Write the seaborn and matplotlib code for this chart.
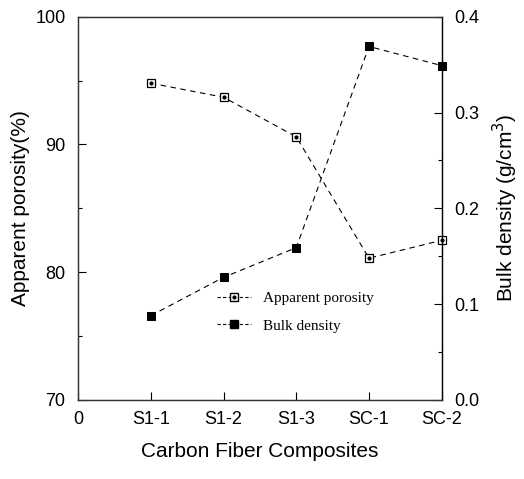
import pandas as pd
import seaborn as sns
import matplotlib.pyplot as plt
from matplotlib.lines import Line2D
from matplotlib.legend_handler import HandlerTuple
from matplotlib.ticker import MultipleLocator

composites = ['S1-1', 'S1-2', 'S1-3', 'SC-1', 'SC-2']
x_pos = [1, 2, 3, 4, 5]
porosity = [94.8, 93.7, 90.6, 81.1, 82.5]
bulk_density = [0.088, 0.128, 0.159, 0.369, 0.349]
x_ticklabels = ['0'] + composites

df = pd.DataFrame({'x': x_pos, 'porosity': porosity, 'density': bulk_density})

sns.set_style('ticks')
plt.rcParams['font.family'] = ['Liberation Sans', 'DejaVu Sans']
plt.rcParams['xtick.direction'] = 'in'
plt.rcParams['ytick.direction'] = 'in'
for k in ['text.color', 'axes.labelcolor', 'xtick.color', 'ytick.color']:
    plt.rcParams[k] = 'black'

fig, ax1 = plt.subplots(figsize=(5.24, 4.79), dpi=100)
fig.subplots_adjust(left=0.149, right=0.843, top=0.965, bottom=0.165)

# porosity: open squares with dot, left axis
sns.lineplot(x='x', y='porosity', data=df, ax=ax1, color='black', linestyle=(0, (5, 4)),
             linewidth=0.8, marker='s', markersize=6, markerfacecolor='white',
             markeredgecolor='black', markeredgewidth=0.9, clip_on=False)
ax1.plot(df['x'], df['porosity'], linestyle='none', marker='.', markersize=4, color='black',
         clip_on=False)

ax2 = ax1.twinx()
sns.lineplot(x='x', y='density', data=df, ax=ax2, color='black', linestyle=(0, (5, 4)),
             linewidth=0.8, marker='s', markersize=6, markerfacecolor='black',
             markeredgecolor='black', clip_on=False)

ax1.set_xlim(0, 5)
ax1.set_xticks(range(0, 6))
ax1.set_xticklabels(x_ticklabels)
ax1.set_ylim(70, 100)
ax1.set_yticks([70, 80, 90, 100])
ax1.yaxis.set_minor_locator(MultipleLocator(5))
ax2.set_ylim(0, 0.4)
ax2.set_yticks([0.0, 0.1, 0.2, 0.3, 0.4])
ax2.yaxis.set_minor_locator(MultipleLocator(0.05))
ax2.set_yticklabels(['0.0', '0.1', '0.2', '0.3', '0.4'])

for ax in (ax1, ax2):
    ax.tick_params(labelsize=13, length=6, width=0.8, pad=9)
    ax.tick_params(which='minor', length=3, width=0.8)
    for s in ax.spines.values():
        s.set_linewidth(0.9)
        s.set_color('#333333')
ax2.spines['right'].set_color('black')
ax1.tick_params(axis='x', pad=8)

ax1.set_xlabel('Carbon Fiber Composites', fontsize=15, labelpad=10)
ax1.set_ylabel('Apparent porosity(%)', fontsize=15, labelpad=4)
ax2.set_ylabel('Bulk density (g/cm$^3$)', fontsize=15, labelpad=8)

h1 = (Line2D([], [], color='black', linestyle=(0, (3, 2)), linewidth=0.8),
      Line2D([], [], linestyle='none', marker='s', markersize=6, markerfacecolor='white',
             markeredgecolor='black'),
      Line2D([], [], linestyle='none', marker='.', markersize=4, color='black'))
h2 = (Line2D([], [], color='black', linestyle=(0, (3, 2)), linewidth=0.8),
      Line2D([], [], linestyle='none', marker='s', markersize=6, color='black'))
ax1.legend([h1, h2], ['Apparent porosity', 'Bulk density'],
           handler_map={tuple: HandlerTuple(ndivide=1, pad=0)},
           loc='lower left', bbox_to_anchor=(0.345, 0.14), frameon=False,
           prop={'family': 'Liberation Serif', 'size': 11}, handlelength=2.2,
           labelspacing=0.9)

plt.savefig('out.png', dpi=100)
